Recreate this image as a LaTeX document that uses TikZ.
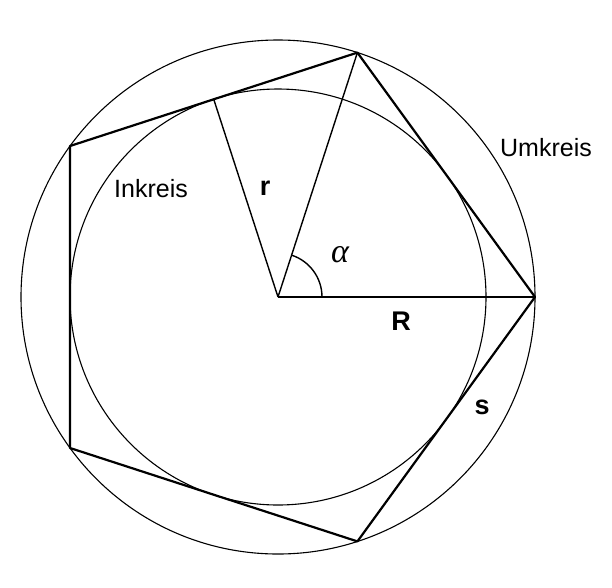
\documentclass[tikz,border=0pt]{standalone}
\usepackage{fontspec}
\setmainfont{Liberation Sans}
\newfontfamily\greekfont{Liberation Serif}
\begin{document}
\begin{tikzpicture}[x=1pt,y=-1pt,
  circ/.style={line width=1.1pt},
  poly/.style={line width=2.2pt, line join=round},
  rad/.style={line width=1.4pt},
  lbl/.style={font=\fontsize{25}{27}\selectfont},
  sym/.style={font=\fontsize{27}{29}\selectfont\bfseries}]
\useasboundingbox (0,0) rectangle (612,587);
\coordinate (M) at (278,297);
\coordinate (P0) at (535,297);
\coordinate (P1) at (357.4,52.6);
\coordinate (P2) at (70,146);
\coordinate (P3) at (70,448);
\coordinate (P4) at (357.4,541.4);
\coordinate (T) at (213.7,99.2);
\draw[circ] (M) circle[radius=257];
\draw[circ] (M) circle[radius=208];
\draw[poly] (P0) -- (P1) -- (P2) -- (P3) -- (P4) -- cycle;
\draw[rad] (M) -- (P0);
\draw[rad] (M) -- (P1);
\draw[rad] (M) -- (T);
\draw[rad] ([shift={(44,0)}]M) arc[start angle=0, end angle=-72, radius=44];
\node[lbl] (um) at (546,148) {Umkreis};
\node[lbl] (in) at (151,189) {Inkreis};
\node[sym] (r) at (265,188) {r};
\node[font=\fontsize{34}{36}\selectfont\greekfont\itshape] (a) at (340,255) {α};
\node[sym] (R) at (401,321) {R};
\node[sym] (s) at (482,407) {s};
\end{tikzpicture}
\end{document}
